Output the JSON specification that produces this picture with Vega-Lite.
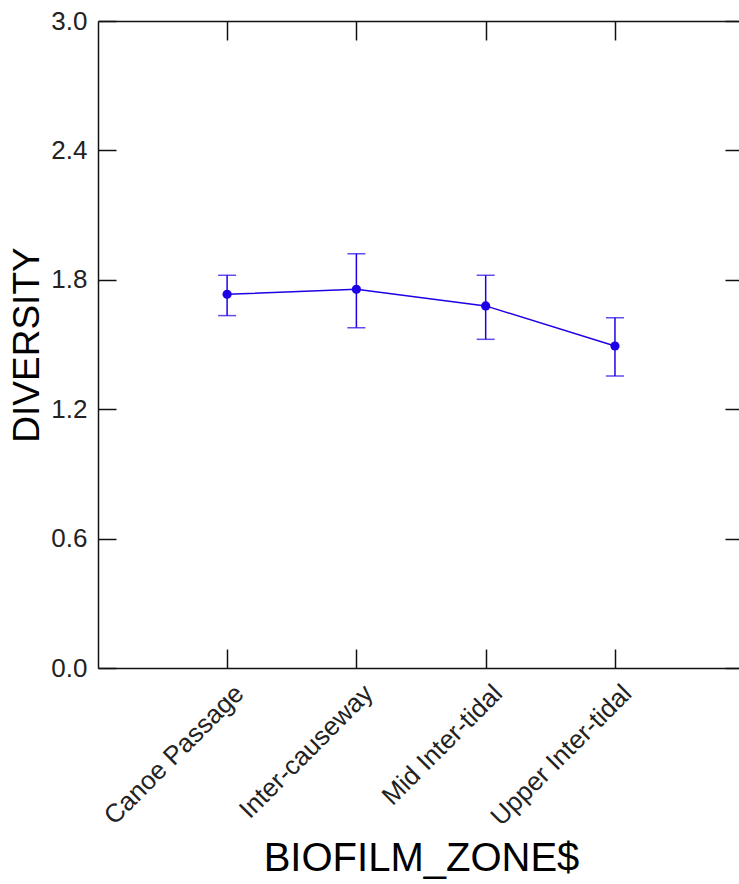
{
  "$schema": "https://vega.github.io/schema/vega-lite/v6.json",
  "width": 641,
  "height": 647,
  "autosize": {"type": "none"},
  "padding": {"left": 98, "top": 21, "right": 0, "bottom": 216},
  "background": "white",
  "config": {
    "view": {"stroke": null},
    "axis": {
      "grid": false,
      "domainColor": "#111",
      "domainWidth": 1.5,
      "tickColor": "#111",
      "tickWidth": 1.5,
      "labelFont": "Liberation Sans",
      "titleFont": "Liberation Sans",
      "labelColor": "#222",
      "titleColor": "#000",
      "titleFontWeight": "normal"
    }
  },
  "data": {
    "values": [
      {"zone": "Canoe Passage", "mean": 1.733, "lower": 1.634, "upper": 1.821},
      {"zone": "Inter-causeway", "mean": 1.756, "lower": 1.578, "upper": 1.921},
      {"zone": "Mid Inter-tidal", "mean": 1.679, "lower": 1.524, "upper": 1.821},
      {"zone": "Upper Inter-tidal", "mean": 1.493, "lower": 1.354, "upper": 1.624}
    ]
  },
  "resolve": {"axis": {"x": "independent", "y": "independent"}},
  "layer": [
    {
      "mark": {"type": "rule", "color": "#1e00e6", "strokeWidth": 1.5},
      "encoding": {
        "x": {
          "field": "zone", "type": "nominal", "sort": null,
          "scale": {"type": "point", "padding": 0.979, "align": 0.51},
          "axis": {
            "orient": "bottom",
            "title": "BIOFILM_ZONE$",
            "titleFontSize": 40,
            "titlePadding": 8,
            "titleX": 323,
            "tickSize": -19,
            "labelAngle": -45,
            "labelAlign": "right",
            "labelBaseline": "middle",
            "labelPadding": 40,
            "labelOffset": 12,
            "labelFontSize": 26,
            "labelLimit": 0,
            "labelOverlap": false
          }
        },
        "y": {
          "field": "lower", "type": "quantitative",
          "scale": {"domain": [0, 3], "nice": false, "zero": false},
          "axis": {
            "orient": "left",
            "title": "DIVERSITY",
            "titleFontSize": 37,
            "titlePadding": 4,
            "values": [0, 0.6, 1.2, 1.8, 2.4, 3.0],
            "format": ".1f",
            "tickSize": -18,
            "labelPadding": 29,
            "labelFontSize": 26
          }
        },
        "y2": {"field": "upper"}
      }
    },
    {
      "mark": {"type": "line", "color": "#1e00e6", "strokeWidth": 1.5},
      "encoding": {
        "x": {
          "field": "zone", "type": "nominal", "sort": null,
          "axis": {"orient": "top", "title": null, "labels": false, "tickSize": -19}
        },
        "y": {
          "field": "mean", "type": "quantitative",
          "axis": {"orient": "right", "title": null, "labels": false, "domain": false, "values": [0, 0.6, 1.2, 1.8, 2.4, 3.0], "tickSize": -14}
        }
      }
    },
    {
      "mark": {"type": "point", "filled": true, "size": 85, "opacity": 1, "color": "#1e00e6"},
      "encoding": {
        "x": {"field": "zone", "type": "nominal", "sort": null, "axis": null},
        "y": {"field": "mean", "type": "quantitative", "axis": null}
      }
    },
    {
      "mark": {"type": "tick", "color": "#1e00e6", "size": 18, "thickness": 1.5},
      "encoding": {
        "x": {"field": "zone", "type": "nominal", "sort": null, "axis": null},
        "y": {"field": "lower", "type": "quantitative", "axis": null}
      }
    },
    {
      "mark": {"type": "tick", "color": "#1e00e6", "size": 18, "thickness": 1.5},
      "encoding": {
        "x": {"field": "zone", "type": "nominal", "sort": null, "axis": null},
        "y": {"field": "upper", "type": "quantitative", "axis": null}
      }
    }
  ]
}
